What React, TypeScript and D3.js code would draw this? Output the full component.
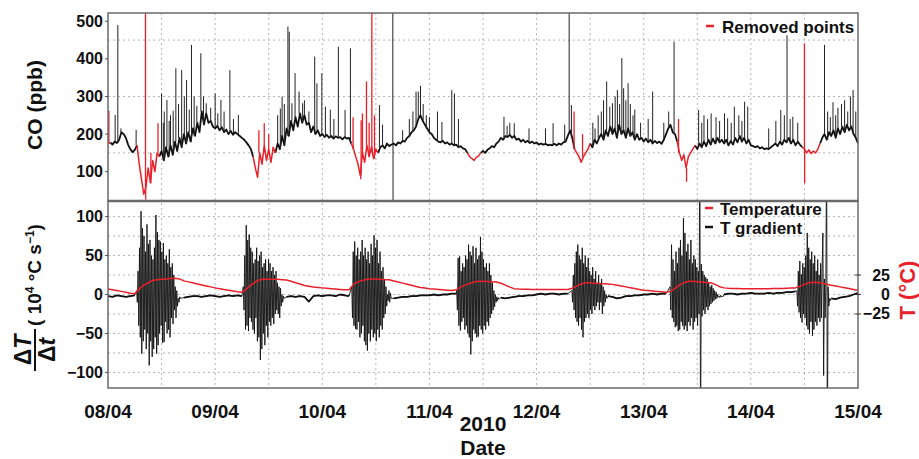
import React from "react";
import * as d3 from "d3";

// CO (ppb), one value every 30 min from 08/04 00:00 to 15/04 00:00
const coBase = [
  // 08/04
  175, 178, 172, 180, 176, 185, 205, 200, 190, 172, 160, 152,
  158, 170, 120, 80, 40, 60, 110, 70, 130, 100, 150, 140,
  155, 130, 165, 140, 170, 145, 180, 155, 190, 165, 200, 175,
  205, 180, 215, 195, 230, 205, 260, 225, 255, 230, 235, 220,
  // 09/04
  215, 222, 210, 218, 205, 212, 200, 208, 198, 205, 200, 195,
  190, 185, 178, 170, 160, 140, 110, 85, 150, 120, 170, 130,
  160, 125, 165, 150, 175, 160, 195, 170, 215, 195, 235, 210,
  245, 220, 255, 230, 250, 225, 230, 205, 220, 200, 210, 195,
  // 10/04
  200, 192, 198, 190, 195, 188, 194, 190, 192, 186, 192, 188,
  190, 175, 160, 140, 120, 90, 150, 125, 170, 140, 165, 135,
  160, 150, 165, 170, 162, 175, 168, 172, 175, 170, 178, 175,
  182, 180, 190, 195, 205, 210, 220, 240, 250, 235, 225, 215,
  // 11/04
  205, 200, 190, 185, 180, 178, 182, 175, 178, 172, 175, 170,
  172, 165, 168, 162, 160, 150, 140, 135, 130, 138, 142, 150,
  155, 150, 158, 162, 168, 165, 175, 180, 190, 185, 195, 192,
  198, 190, 195, 185, 188, 180, 185, 178, 182, 176, 180, 175,
  // 12/04
  178, 172, 175, 172, 174, 170, 172, 170, 174, 170, 175, 172,
  178, 180, 195, 210, 190, 160, 150, 140, 125, 140, 150, 160,
  175, 165, 185, 175, 190, 200, 185, 210, 195, 220, 200, 215,
  190, 225, 200, 210, 190, 215, 195, 205, 185, 200, 185, 190,
  // 13/04
  180, 188, 178, 185, 175, 182, 176, 180, 174, 185, 200, 215,
  225, 205, 200, 180, 150, 130, 145, 110, 140, 150, 160, 170,
  160, 175, 165, 180, 168, 185, 172, 188, 175, 190, 178, 185,
  175, 185, 170, 182, 172, 190, 178, 195, 180, 190, 175, 185,
  // 14/04
  170, 168, 165, 168, 162, 165, 160, 162, 160, 165, 170, 175,
  168, 180, 172, 185, 178, 190, 175, 185, 170, 180, 172, 165,
  160, 150, 158, 148, 155, 150, 160, 175, 190, 200, 185, 205,
  195, 210, 190, 215, 200, 220, 205, 225, 210, 220, 200, 190, 175,
];

// short CO peaks [hour, ppb]
const coSpikes: [number, number][] = [
  [0.2, 262], [1.6, 251], [2.2, 490], [2.9, 215], [6.3, 211], [8.4, 600], [8.45, 25], [9.6, 150],
  [11.2, 229], [12.0, 308], [12.4, 230], [12.6, 260], [13.2, 291], [13.7, 235], [14.0, 250],
  [14.6, 262], [15.2, 375], [15.8, 280], [16.5, 370], [17.1, 300], [17.6, 344], [18.2, 265],
  [18.7, 437], [19.3, 300], [19.9, 275], [20.8, 415], [21.4, 300], [22.0, 282], [23.0, 270],
  [24.0, 308], [24.6, 255], [25.3, 291], [26.0, 260], [27.3, 370], [28.1, 240], [29.2, 251],
  [33.8, 210], [35.0, 229], [36.0, 200], [38.0, 250], [38.6, 268], [39.0, 300], [39.5, 280],
  [40.3, 486], [40.6, 472], [41.2, 282], [41.9, 362], [42.8, 313], [43.6, 282], [44.0, 290],
  [45.0, 260], [46.3, 406], [46.8, 335], [47.9, 362], [48.7, 273], [49.8, 265], [50.6, 240],
  [51.6, 432], [53.1, 264], [54.3, 428], [54.9, 245], [56.6, 80], [56.7, 237], [57.0, 255],
  [57.9, 340], [58.5, 230], [59.1, 600], [59.15, 150], [59.7, 250], [60.8, 277], [61.5, 225],
  [63.8, 600], [63.85, 22],
  [66.0, 210], [67.5, 240], [68.3, 260], [69.0, 313], [69.5, 313], [70.0, 328], [70.6, 280],
  [71.3, 250], [72.0, 245], [73.8, 260], [74.8, 232], [77.0, 317], [77.6, 308], [78.5, 240],
  [88.7, 246], [89.4, 222], [90.0, 230], [91.0, 229], [94.3, 215], [98.0, 215], [99.7, 229],
  [102.3, 225], [103.3, 600], [103.8, 277], [104.4, 260], [106.3, 200],
  [108.6, 230], [109.1, 215], [109.8, 250], [110.5, 260], [111.0, 290], [111.7, 340],
  [112.4, 273], [113.0, 282], [113.6, 300], [114.1, 317], [114.6, 280], [115.1, 402],
  [115.5, 322], [116.0, 290], [116.5, 335], [117.0, 280], [117.6, 250], [118.0, 265],
  [119.3, 230], [121.0, 240], [122.0, 313], [124.5, 230], [125.6, 260],
  [126.8, 446], [127.8, 240], [129.6, 73], [132.3, 264], [133.0, 230], [133.5, 250],
  [134.3, 240], [135.1, 255], [136.2, 245], [137.0, 235], [138.1, 255], [138.8, 242],
  [139.6, 230], [140.3, 273], [141.3, 250], [142.0, 235], [142.6, 286], [143.3, 273],
  [148.0, 215], [149.6, 235], [150.7, 264], [151.5, 250], [152.1, 463], [152.8, 240],
  [153.4, 246], [154.5, 230], [156.0, 441], [156.05, 69], [160.5, 437], [161.2, 260],
  [161.8, 245], [162.4, 285], [163.0, 250], [163.5, 270], [164.3, 280], [165.0, 290],
  [165.7, 260], [166.3, 300], [166.9, 317], [167.5, 260],
];

// removed points, [from hour, to hour]
const removedSpans: [number, number][] = [
  [0, 0.4], [6.4, 11.5], [32.3, 37.4], [54.5, 60.5],
  [80.4, 83.4], [104.4, 107.8], [127.6, 131.3], [155.6, 159.4],
];

// temperature (°C), hourly
const tempHourly = [
  7, 6, 5, 4, 3, 1.5, 1, 7, 12, 15, 18, 19, 19.5, 20, 20.5, 21, 20, 17.5, 16.2, 15, 13.6, 12.3, 11, 9.8,
  8.5, 7.5, 6.5, 5.5, 4.5, 3.5, 3, 7, 12, 16, 19, 19.5, 19.5, 19.5, 19.5, 19, 18.5, 17, 15, 13.5, 11.5, 10.5, 9.5, 9,
  8.5, 8, 7.5, 7, 6.5, 6, 6, 13, 16.5, 18, 19.5, 20, 20, 19.5, 19, 18.8, 17.4, 16, 14.6, 13.2, 11.8, 10.4, 9, 8.2,
  7.5, 7, 6.5, 6, 5.5, 5, 6, 9.5, 12, 14, 16, 17, 17, 16.8, 16.5, 16, 14.5, 12, 9.5, 7.5, 7, 6.8, 6.6, 6.5,
  6.5, 6.5, 6.4, 6.4, 6.4, 6.4, 6.4, 6.4, 8, 11, 13.5, 15, 15, 14.5, 14, 13.8, 13.6, 13, 12, 11, 9.8, 8.7, 7.6, 6.5,
  5.5, 5, 4.5, 4, 3.5, 3, 4, 8, 12, 15, 17, 17, 16.5, 16, 15.5, 15, 13, 10, 8.5, 8, 7.8, 7.6, 7.5, 7.4,
  7.3, 7.3, 7.3, 7.4, 7.5, 7.6, 7.7, 7.8, 8, 8.2, 8.5, 10.5, 13, 15, 15.7, 15.5, 14.5, 13.2, 12, 11, 9.8, 8.7, 7.6, 6.5, 5.5,
];

// T gradient (1e-4 °C/s) at night, hourly (daytime hours are covered by the bursts below)
const gradQuiet = [
  -2, -3, -1, -2, -3, -2, -1, 0, 0, 0, 0, 0, 0, 0, 0, 0, 0, -4, -3, -2, -2, -3, -2, -1,
  -2, -3, -2, -1, -2, -1, -2, 0, 0, 0, 0, 0, 0, 0, 0, 0, -3, -2, -3, -2, -3, -9, -2, -1,
  -2, -1, -1, -2, 0, -1, -2, 0, 0, 0, 0, 0, 0, 0, 0, 0, -5, -4, -3, -3, -2, -2, -1, -1,
  -1, 0, -1, 0, 0, 1, 1, 0, 0, 0, 0, 0, 0, 0, 0, 0, -4, -5, -4, -3, -2, -2, -1, -1,
  0, 1, 0, 1, 1, 0, 1, 1, 0, 0, 0, 0, 0, 0, 0, 0, -2, -3, -5, -4, -2, -2, -1, -1,
  0, 0, 1, 0, 1, 1, 0, 0, 0, 0, 0, 0, 0, 0, 0, 0, 0, 0, 0, 1, 1, 0, 1, 1,
  2, 1, 1, 1, 2, 1, 2, 2, 3, 3, 4, 0, 0, 0, 0, 0, 0, 0, -5, -6, -4, -3, -2, 0, 2,
];

// daytime T gradient, one value every 10 min
const burst0804 = [
  5, -10, 30, -40, 60, -55, 107, -76, 85, -60, 75, -45, 55, -70, 90, -50, 65, -91, 70, -60,
  50, -80, 45, -70, 60, -55, 102, -76, 80, -65, 70, -50, 68, -40, 55, -62, 66, -61, 45, -35,
  50, -50, 40, -45, 58, -55, 35, -30, 40, -38, 25, -20, 10, -30, 5, -15, -5, -10, -3, -5,
];
const burst0904 = [
  10, -20, 50, -45, 89, -40, 70, -47, 77, -30, 60, -35, 55, -45, 40, -50, 45, -30, 60, -60,
  43, -55, 50, -84, 55, -70, 35, -50, 40, -65, 45, -40, 30, -55, 45, -35, 40, -40, 30, -30,
  35, -38, 25, -25, 30, -20, 15, -25, 10, -30, 8, -15, 0, -10, -2, -5,
];
const burst1004 = [
  10, -30, 55, -40, 68, -44, 50, -45, 60, -35, 45, -55, 55, -50, 70, -40, 50, -60, 60, -65,
  45, -72, 55, -50, 40, -60, 65, -45, 50, -55, 76, -50, 60, -60, 70, -45, 40, -55, 55, -40,
  30, -45, 35, -30, 20, -25, 10, -15, 0, -8, 5, -10, 2, -5,
];
const burst1104 = [
  5, -20, 47, -40, 49, -46, 30, -35, 40, -30, 35, -45, 50, -40, 45, -50, 64, -55, 55, -77,
  50, -60, 62, -45, 40, -50, 60, -55, 45, -54, 50, -40, 74, -45, 55, -50, 45, -40, 35, -45,
  40, -35, 30, -40, 40, -30, 25, -25, 15, -20, 5, -16, 0, -10, -3, -8, -4, -6, -5, -4,
];
const burst1204 = [
  5, -10, 25, -20, 40, -30, 55, -35, 64, -40, 50, -30, 45, -45, 60, -55, 40, -35, 50, -30,
  35, -25, 47, -30, 30, -20, 25, -25, 35, -15, 20, -20, 30, -15, 15, -10, 25, -20, 15, -10,
  20, -25, 10, -15, 5, -10, 0, -5,
];
const burst1304 = [
  10, -20, 64, -30, 45, -35, 30, -42, 55, -40, 40, -47, 60, -45, 70, -35, 50, -40, 98, -45,
  79, -40, 55, -47, 65, -35, 45, -40, 70, -30, 40, -45, 50, -35, 45, -30, 35, -40, 30, -25,
  200, -200, 39, -28, 30, -20, 25, -25, 22, -16, 20, -20, 15, -15, 10, -12, 12, -10, 8, -8,
  5, -6, 3, -5, 0, -3, -2, -4, -1, -3, -2, -3,
];
const burst1404 = [
  5, -15, 30, -23, 43, -30, 26, -36, 40, -25, 35, -30, 50, -40, 79, -45, 60, -50, 45, -35,
  55, -53, 40, -45, 50, -35, 30, -40, 45, -30, 25, -35, 40, -30, 35, 79, -104, 20, -30, 15,
  200, -200, 10, -15, -5, -8,
];
const bursts = [burst0804, burst0904, burst1004, burst1104, burst1204, burst1304, burst1404];
const burstStarts = [6.4, 30.3, 54.6, 78.1, 103.9, 125.9, 154.3];

const dayLabels = ["08/04", "09/04", "10/04", "11/04", "12/04", "13/04", "14/04", "15/04"];
const coTicks = [100, 200, 300, 400, 500];
const coGrid = [150, 300, 450];
const gradTicks = [-100, -50, 0, 50, 100];
const tempTicks = [-25, 0, 25];

const FONT = "'Liberation Sans', Arial, Helvetica, sans-serif";
const RED = "#e8202a";

type Pt = [number, number];

export default function App() {
  const left = 108, right = 858;
  const topY0 = 13, midY = 201, botY1 = 388;

  const x = d3.scaleLinear().domain([0, 168]).range([left, right]);
  const yCO = d3.scaleLinear().domain([22, 522]).range([midY, topY0]);
  const yG = d3.scaleLinear().domain([-120, 120]).range([botY1, midY]);

  const isRemoved = (t: number) => removedSpans.some(([a, b]) => t >= a && t <= b);

  // CO base trace split into kept / removed runs
  const coPts: Pt[] = coBase.map((v, i) => [i * 0.5, v]);
  const runs: { red: boolean; pts: Pt[] }[] = [];
  for (let i = 0; i < coPts.length - 1; i++) {
    const red = isRemoved((coPts[i][0] + coPts[i + 1][0]) / 2);
    const last = runs[runs.length - 1];
    if (last && last.red === red) last.pts.push(coPts[i + 1]);
    else runs.push({ red, pts: [coPts[i], coPts[i + 1]] });
  }
  const coLine = d3.line<Pt>().x((d) => x(d[0])).y((d) => yCO(d[1]));
  // spikes rise straight from the nearest base value
  const spikes = coSpikes.map(([t, v]) => ({
    t, v, from: coBase[Math.round(t / 0.5)], red: isRemoved(t),
  }));

  // gradient = quiet hourly + daytime bursts
  const spans = bursts.map((b, i) => [burstStarts[i], burstStarts[i] + (b.length - 1) / 6]);
  const inBurst = (h: number) => spans.some(([a, b]) => h > a && h < b);
  const gradPts: Pt[] = [];
  gradQuiet.forEach((v, h) => {
    if (!inBurst(h)) gradPts.push([h, v]);
  });
  bursts.forEach((b, i) => b.forEach((v, k) => gradPts.push([burstStarts[i] + k / 6, v])));
  gradPts.sort((a, b) => a[0] - b[0]);
  const gLine = d3.line<Pt>().x((d) => x(d[0])).y((d) => yG(d[1]));
  // quiet (night) stretches, drawn a little heavier
  const quietRuns: Pt[][] = [];
  gradQuiet.forEach((v, h) => {
    if (inBurst(h)) return;
    const last = quietRuns[quietRuns.length - 1];
    if (last && last[last.length - 1][0] === h - 1) last.push([h, v]);
    else quietRuns.push([[h, v]]);
  });
  const tempPts: Pt[] = tempHourly.map((v, h) => [h, v]);

  const vGrid = d3.range(12, 168, 12);
  const gradGrid = d3.range(-100, 101, 25);
  const fmt = (v: number) => (v < 0 ? "\u2212" + Math.abs(v) : String(v));

  return (
    <svg width={919} height={459} style={{ position: "absolute", left: 0, top: 0, background: "#fff" }}
      fontFamily={FONT} fontWeight="bold">
      <defs>
        <clipPath id="clipTop"><rect x={left} y={topY0} width={right - left} height={midY - topY0} /></clipPath>
        <clipPath id="clipBot"><rect x={left} y={midY} width={right - left} height={botY1 - midY} /></clipPath>
      </defs>
      <rect width={919} height={459} fill="#fff" />

      {/* grids */}
      <g stroke="#b4b4b4" strokeWidth={1} strokeDasharray="2,3">
        {vGrid.map((h) => (
          <line key={"v" + h} x1={x(h)} x2={x(h)} y1={topY0} y2={botY1} />
        ))}
        {coGrid.map((v) => (
          <line key={"c" + v} x1={left} x2={right} y1={yCO(v)} y2={yCO(v)} />
        ))}
        {gradGrid.map((v) => (
          <line key={"g" + v} x1={left} x2={right} y1={yG(v)} y2={yG(v)} />
        ))}
      </g>

      {/* CO panel */}
      <g clipPath="url(#clipTop)" fill="none" strokeLinejoin="round">
        {runs.filter((r) => !r.red).map((r, i) => (
          <path key={"k" + i} d={coLine(r.pts) ?? ""} stroke="#111" strokeWidth={1.8} />
        ))}
        {spikes.filter((s) => !s.red).map((s, i) => (
          <line key={"sk" + i} x1={x(s.t)} x2={x(s.t)} y1={yCO(s.from)} y2={yCO(s.v)} stroke="#222" strokeWidth={1} />
        ))}
        {runs.filter((r) => r.red).map((r, i) => (
          <path key={"r" + i} d={coLine(r.pts) ?? ""} stroke={RED} strokeWidth={1.5} />
        ))}
        {spikes.filter((s) => s.red).map((s, i) => (
          <line key={"sr" + i} x1={x(s.t)} x2={x(s.t)} y1={yCO(s.from)} y2={yCO(s.v)} stroke={RED} strokeWidth={1.3} />
        ))}
      </g>

      {/* gradient panel */}
      <g clipPath="url(#clipBot)" fill="none" strokeLinejoin="round">
        <path d={gLine(gradPts) ?? ""} stroke="#111" strokeWidth={0.9} />
        {quietRuns.map((r, i) => (
          <path key={"q" + i} d={gLine(r) ?? ""} stroke="#111" strokeWidth={1.8} />
        ))}
        <path d={gLine(tempPts) ?? ""} stroke={RED} strokeWidth={1.5} />
      </g>

      {/* frames */}
      <rect x={left} y={topY0} width={right - left} height={midY - topY0} fill="none" stroke="#6a6a6a" strokeWidth={1.5} />
      <rect x={left} y={midY} width={right - left} height={botY1 - midY} fill="none" stroke="#6a6a6a" strokeWidth={1.5} />
      <line x1={left} x2={right} y1={midY} y2={midY} stroke="#6a6a6a" strokeWidth={2.5} />

      {/* axis ticks */}
      <g fontSize={16} textAnchor="end" fill="#111">
        {coTicks.map((v) => (
          <g key={"ct" + v}>
            <line x1={left - 3} x2={left} y1={yCO(v)} y2={yCO(v)} stroke="#555" />
            <text x={left - 5} y={yCO(v)} dominantBaseline="central">{fmt(v)}</text>
          </g>
        ))}
        {gradTicks.map((v) => (
          <g key={"gt" + v}>
            <line x1={left - 3} x2={left} y1={yG(v)} y2={yG(v)} stroke="#555" />
            <text x={left - 5} y={yG(v)} dominantBaseline="central">{fmt(v)}</text>
          </g>
        ))}
        {tempTicks.map((v) => (
          <g key={"tt" + v}>
            <line x1={right - 3} x2={right + 3} y1={yG(v)} y2={yG(v)} stroke="#333" />
            <text x={890} y={yG(v)} dominantBaseline="central">{fmt(v)}</text>
          </g>
        ))}
      </g>

      {/* x axis */}
      <g fontSize={19} textAnchor="middle" fill="#111">
        {dayLabels.map((d, i) => (
          <text key={d} x={x(i * 24)} y={418}>{d}</text>
        ))}
        <text x={483} y={431} fontSize={21}>2010</text>
        <text x={483} y={455} fontSize={21}>Date</text>
      </g>

      {/* y axis titles */}
      <text transform="translate(42,105) rotate(-90)" textAnchor="middle" fontSize={21} fill="#111">CO (ppb)</text>
      <text transform="translate(41,275) rotate(-90)" textAnchor="middle" fontSize={19} fill="#111">
        ( 10<tspan fontSize={12} dy={-7}>4</tspan>
        <tspan dy={7}> °C s</tspan>
        <tspan fontSize={12} dy={-7}>−1</tspan>
        <tspan dy={7}>)</tspan>
      </text>
      <g transform="translate(35,350) rotate(-90)" fill="#111">
        <text x={0} y={-4} textAnchor="middle" fontSize={23}>Δ<tspan fontStyle="italic">T</tspan></text>
        <line x1={-21} x2={21} y1={0} y2={0} stroke="#111" strokeWidth={2} />
        <text x={0} y={20} textAnchor="middle" fontSize={23}>Δ<tspan fontStyle="italic">t</tspan></text>
      </g>
      <text transform="translate(915,290) rotate(-90)" textAnchor="middle" fontSize={22} fill={RED}>T (°C)</text>

      {/* legends */}
      <line x1={706} x2={714} y1={26} y2={26} stroke={RED} strokeWidth={2.5} />
      <text x={722} y={33} fontSize={17} fill="#111">Removed points</text>
      <line x1={705} x2={713} y1={208} y2={208} stroke={RED} strokeWidth={2.5} />
      <text x={720} y={215} fontSize={17} fill="#111">Temperature</text>
      <line x1={705} x2={713} y1={227} y2={227} stroke="#111" strokeWidth={2.5} />
      <text x={720} y={234} fontSize={17} fill="#111">T gradient</text>
    </svg>
  );
}
